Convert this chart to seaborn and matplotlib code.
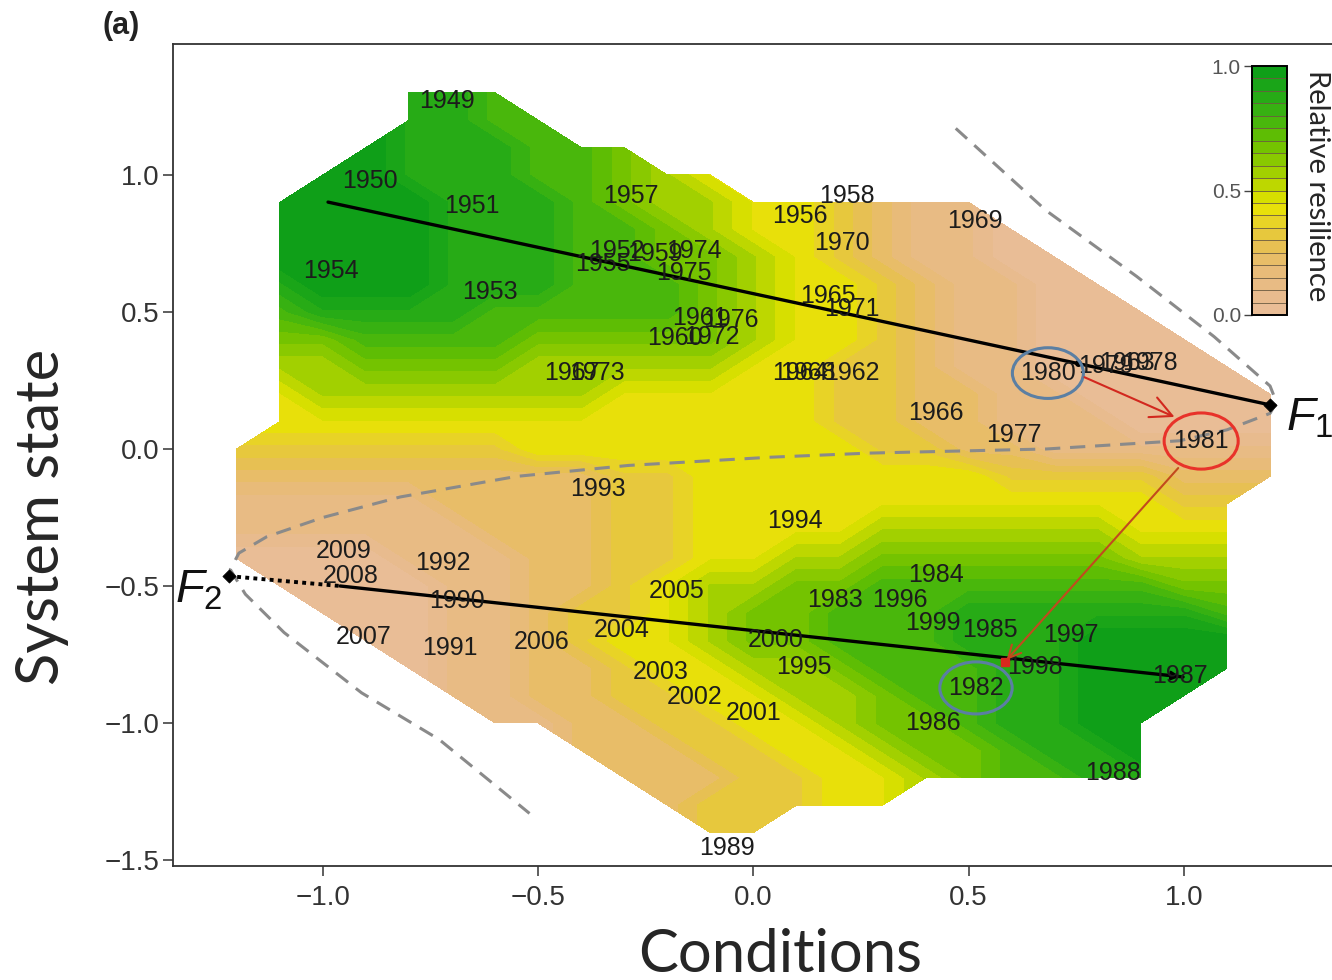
import numpy as np
import matplotlib
matplotlib.use("Agg")
import matplotlib.pyplot as plt
import seaborn as sns
from matplotlib.colors import LinearSegmentedColormap
from matplotlib.patches import Ellipse

# ------------ DATA ------------
# resilience map, one row per system-state value: (y, first x, digits)
# digit 0..9 -> relative resilience 0..1 at x = first x, first x + 0.1, ...
RESILIENCE_ROWS = [
    (1.3, -0.8, "887"),
    (1.2, -0.8, "8877"),
    (1.1, -0.9, "9888776"),
    (1.0, -1.0, "9988877654"),
    (0.9, -1.1, "99998887655443211"),
    (0.8, -1.1, "999988877654432110"),
    (0.7, -1.1, "9999888776654321100"),
    (0.6, -1.1, "89998887776544321100"),
    (0.5, -1.1, "788887777765443211000"),
    (0.4, -1.1, "6677776666654432110000"),
    (0.3, -1.1, "55666655555443321100000"),
    (0.2, -1.1, "455555554444433221100000"),
    (0.1, -1.1, "444444444444433221110000"),
    (0.0, -1.2, "3333333444444443322111111"),
    (-0.1, -1.2, "2222222223344444443333222"),
    (-0.2, -1.2, "111112222334444444444433"),
    (-0.3, -1.2, "111111222334444555555444"),
    (-0.4, -1.2, "000011122334455666666555"),
    (-0.5, -1.1, "00001122345566777777766"),
    (-0.6, -1.0, "0001123345667778888887"),
    (-0.7, -0.9, "001123445667778889999"),
    (-0.8, -0.8, "01122344556777889999"),
    (-0.9, -0.7, "112233445567788999"),
    (-1.0, -0.6, "1122334456678899"),
    (-1.1, -0.4, "22233445667889"),
    (-1.2, -0.3, "2223344567788"),
    (-1.3, -0.2, "233344"),
    (-1.4, -0.1, "33"),
]

YEARS = [1949, 1950, 1951, 1957, 1958, 1956, 1969, 1970, 1952, 1959, 1974,
         1955, 1975, 1954, 1953, 1965, 1971, 1961, 1976, 1960, 1972, 1967,
         1973, 1964, 1968, 1962, 1980, 1979, 1963, 1978, 1966, 1977, 1981,
         1993, 1994, 2009, 2008, 1992, 1990, 2005, 1984, 1983, 1996, 1999,
         1985, 1997, 2007, 1991, 2006, 2004, 2000, 1995, 1998, 1987, 2003,
         1982, 2002, 2001, 1986, 1988, 1989]
YEAR_X = [-0.712, -0.891, -0.654, -0.285, 0.217, 0.108, 0.515, 0.206, -0.317,
          -0.229, -0.138, -0.350, -0.161, -0.981, -0.612, 0.173, 0.229, -0.124,
          -0.052, -0.182, -0.096, -0.422, -0.364, 0.108, 0.127, 0.229, 0.684,
          0.819, 0.868, 0.921, 0.424, 0.605, 1.040, -0.361, 0.096, -0.951,
          -0.935, -0.721, -0.689, -0.178, 0.424, 0.189, 0.340, 0.417, 0.549,
          0.738, -0.905, -0.705, -0.491, -0.305, 0.052, 0.117, 0.654, 0.991,
          -0.215, 0.517, -0.136, 0.001, 0.417, 0.835, -0.062]
YEAR_Y = [1.270, 0.978, 0.887, 0.923, 0.923, 0.850, 0.832, 0.752, 0.723,
          0.712, 0.723, 0.675, 0.642, 0.650, 0.573, 0.558, 0.511, 0.478,
          0.471, 0.405, 0.409, 0.277, 0.277, 0.277, 0.277, 0.277, 0.277,
          0.303, 0.314, 0.314, 0.131, 0.051, 0.029, -0.146, -0.263, -0.372,
          -0.464, -0.416, -0.555, -0.518, -0.460, -0.551, -0.551, -0.635,
          -0.661, -0.679, -0.686, -0.726, -0.704, -0.661, -0.697, -0.796,
          -0.796, -0.828, -0.814, -0.872, -0.905, -0.964, -1.000, -1.182,
          -1.456]

# fitted trajectories of the two regimes
UPPER_X = [-0.988, 1.200]
UPPER_Y = [0.901, 0.161]
LOWER_X = [-0.960, 0.998]
LOWER_Y = [-0.500, -0.832]
# fold points
FOLD_X = [1.200, -1.218]
FOLD_Y = [0.161, -0.464]
# fold curve (grey dashed)
FOLD_CURVE_X = [0.47, 0.68, 0.89, 1.07, 1.20, 1.215, 1.20, 1.10, 0.99, 0.68,
                0.27, 0.04, -0.29, -0.55, -0.82, -1.00, -1.13, -1.195, -1.215,
                -1.18, -1.09, -0.91, -0.73, -0.52]
FOLD_CURVE_Y = [1.17, 0.87, 0.63, 0.41, 0.23, 0.17, 0.13, 0.07, 0.03, 0.00,
                -0.015, -0.03, -0.06, -0.10, -0.175, -0.25, -0.32, -0.38,
                -0.44, -0.53, -0.67, -0.89, -1.06, -1.33]
# regime shift 1980 -> 1981 -> 1982
SHIFT_X = [0.763, 0.984, 0.991, 0.584]
SHIFT_Y = [0.266, 0.113, -0.062, -0.777]
STATE_1980 = (0.754, 0.314)
CIRCLED = {1980: "#5b7fa3", 1981: "#e8322a", 1982: "#5b7fa3"}
CIRCLE_SIZE = {1980: (0.165, 0.185), 1981: (0.172, 0.205), 1982: (0.168, 0.19)}

# ------------ GRID ------------
grid_x = np.round(np.arange(-13, 14) / 10, 1)
grid_y = np.array([r[0] for r in RESILIENCE_ROWS])[::-1]
Z = np.full((len(grid_y), len(grid_x)), np.nan)
for y, x0, digits in RESILIENCE_ROWS:
    row = len(grid_y) - 1 - list(grid_y[::-1]).index(y)
    col0 = int(round((x0 + 1.3) * 10))
    for k, ch in enumerate(digits):
        Z[row, col0 + k] = int(ch) / 9
Z = np.ma.masked_invalid(Z)
X, Y = np.meshgrid(grid_x, grid_y)

cmap = LinearSegmentedColormap.from_list("resil", [
    (0.00, "#e9be9a"), (0.10, "#e8ba8a"), (0.20, "#e8bc72"),
    (0.30, "#e7c248"), (0.38, "#e8d424"), (0.44, "#e8e400"),
    (0.52, "#c0d800"), (0.60, "#96cc00"), (0.70, "#68c000"),
    (0.80, "#40b410"), (0.90, "#20a818"), (1.00, "#0a9c18")])

# ------------ PLOT ------------
sns.set_style("ticks")
plt.rcParams["font.family"] = ["Liberation Sans", "DejaVu Sans"]
plt.rcParams["mathtext.fontset"] = "custom"
plt.rcParams["mathtext.it"] = "Liberation Sans:italic"
plt.rcParams["mathtext.rm"] = "Liberation Sans"

fig = plt.figure(figsize=(13.32, 9.8), dpi=100)
ax = fig.add_axes([0.1299, 0.1163, 0.8724, 0.8388])

cf = ax.contourf(X, Y, Z, levels=np.linspace(0, 1, 21), cmap=cmap, zorder=1)

ax.plot(FOLD_CURVE_X, FOLD_CURVE_Y, color="#8a8a8a", lw=2.2,
        dashes=(5, 3.2), zorder=2)

sns.lineplot(x=UPPER_X, y=UPPER_Y, sort=False, estimator=None, color="black",
             linewidth=2.4, ax=ax, zorder=3)
sns.lineplot(x=LOWER_X, y=LOWER_Y, sort=False, estimator=None, color="black",
             linewidth=2.4, ax=ax, zorder=3)
ax.plot([FOLD_X[1], LOWER_X[0]], [FOLD_Y[1], LOWER_Y[0]], color="black",
        lw=2.8, linestyle=(0, (1, 1.1)), zorder=3)
# arrow head at the end of the lower trajectory
d = np.array([LOWER_X[1] - LOWER_X[0], LOWER_Y[1] - LOWER_Y[0]])
tail = np.array([LOWER_X[1], LOWER_Y[1]]) - 0.05 * d / np.linalg.norm(d)
ax.annotate("", xy=(LOWER_X[1], LOWER_Y[1]), xytext=tail,
            arrowprops=dict(arrowstyle="-|>", color="black", lw=1.5,
                            mutation_scale=14), zorder=3)

sns.scatterplot(x=FOLD_X, y=FOLD_Y, color="black", s=45, marker="D",
                edgecolor="black", ax=ax, zorder=4)
ax.plot(*STATE_1980, "o", color="black", ms=4, zorder=4)

for yr, x, y in zip(YEARS, YEAR_X, YEAR_Y):
    ax.text(x, y, str(yr), ha="center", va="center", fontsize=18,
            color="#1c1c1c", zorder=5)

pos = {yr: (x, y) for yr, x, y in zip(YEARS, YEAR_X, YEAR_Y)}
for yr, col in CIRCLED.items():
    w, h = CIRCLE_SIZE[yr]
    ax.add_patch(Ellipse(pos[yr], w, h, fill=False, ec=col, lw=2.2, zorder=6))

ax.annotate("", xy=(SHIFT_X[1], SHIFT_Y[1]), xytext=(SHIFT_X[0], SHIFT_Y[0]),
            arrowprops=dict(arrowstyle="->,head_length=0.7,head_width=0.35",
                            color="#d2281e", lw=1.5, mutation_scale=22), zorder=6)
ax.annotate("", xy=(SHIFT_X[3], SHIFT_Y[3]), xytext=(SHIFT_X[2], SHIFT_Y[2]),
            arrowprops=dict(arrowstyle="->,head_length=0.5,head_width=0.25",
                            color="#c24a1e", lw=1.5, mutation_scale=18), zorder=6)
ax.plot(SHIFT_X[3], SHIFT_Y[3], "s", color="#d8281e", ms=6, zorder=7)

ax.text(1.236, 0.069, r"$F_1$", fontsize=34, ha="left", va="baseline",
        color="#111111", zorder=7, clip_on=False)
ax.text(-1.232, -0.562, r"$F_2$", fontsize=34, ha="right", va="baseline",
        color="#111111", zorder=7)

ax.set_xlim(-1.348, 1.351)
ax.set_ylim(-1.522, 1.478)
ax.set_xticks([-1.0, -0.5, 0.0, 0.5, 1.0])
ax.set_yticks([-1.5, -1.0, -0.5, 0.0, 0.5, 1.0])
ax.set_xticklabels(["\u22121.0", "\u22120.5", "0.0", "0.5", "1.0"])
ax.set_yticklabels(["\u22121.5", "\u22121.0", "\u22120.5", "0.0", "0.5", "1.0"])
ax.tick_params(axis="both", direction="out", length=7, width=1.1,
               color="#333333", labelcolor="#333333", labelsize=20)
ax.tick_params(axis="y", pad=3)
ax.tick_params(axis="x", pad=7)
for side in ["left", "bottom", "top"]:
    ax.spines[side].set_linewidth(1.3)
    ax.spines[side].set_color("#333333")
ax.spines["right"].set_visible(False)
ax.set_xlabel("")
ax.set_ylabel("")

cax = fig.add_axes([0.940, 0.6786, 0.0263, 0.254])
cb = fig.colorbar(cf, cax=cax, drawedges=True)
cb.set_ticks([0.0, 0.5, 1.0])
cb.set_ticklabels(["0.0", "0.5", "1.0"])
cb.ax.yaxis.set_ticks_position("left")
cb.ax.tick_params(length=6, width=1, color="#444444", labelcolor="#555555",
                  labelsize=15, pad=2)
cb.outline.set_linewidth(1.4)
cb.outline.set_edgecolor("black")
cb.dividers.set_color("#6a5a40")
cb.dividers.set_linewidth(0.6)
cb.ax.text(1.85, 0.52, "Relative resilience", rotation=270, ha="center",
           va="center", fontsize=21, family="Lato", transform=cb.ax.transAxes)

fig.text(0.091, 0.973, "(a)", fontsize=22, fontweight="bold", ha="center",
         va="center", color="#222222")
fig.text(0.586, 0.008, "Conditions", fontsize=43, family="Lato", ha="center",
         va="baseline")
fig.text(0.0315, 0.473, "System state", fontsize=43, family="Lato",
         rotation=90, ha="center", va="center")

fig.savefig("out.png", dpi=100)
